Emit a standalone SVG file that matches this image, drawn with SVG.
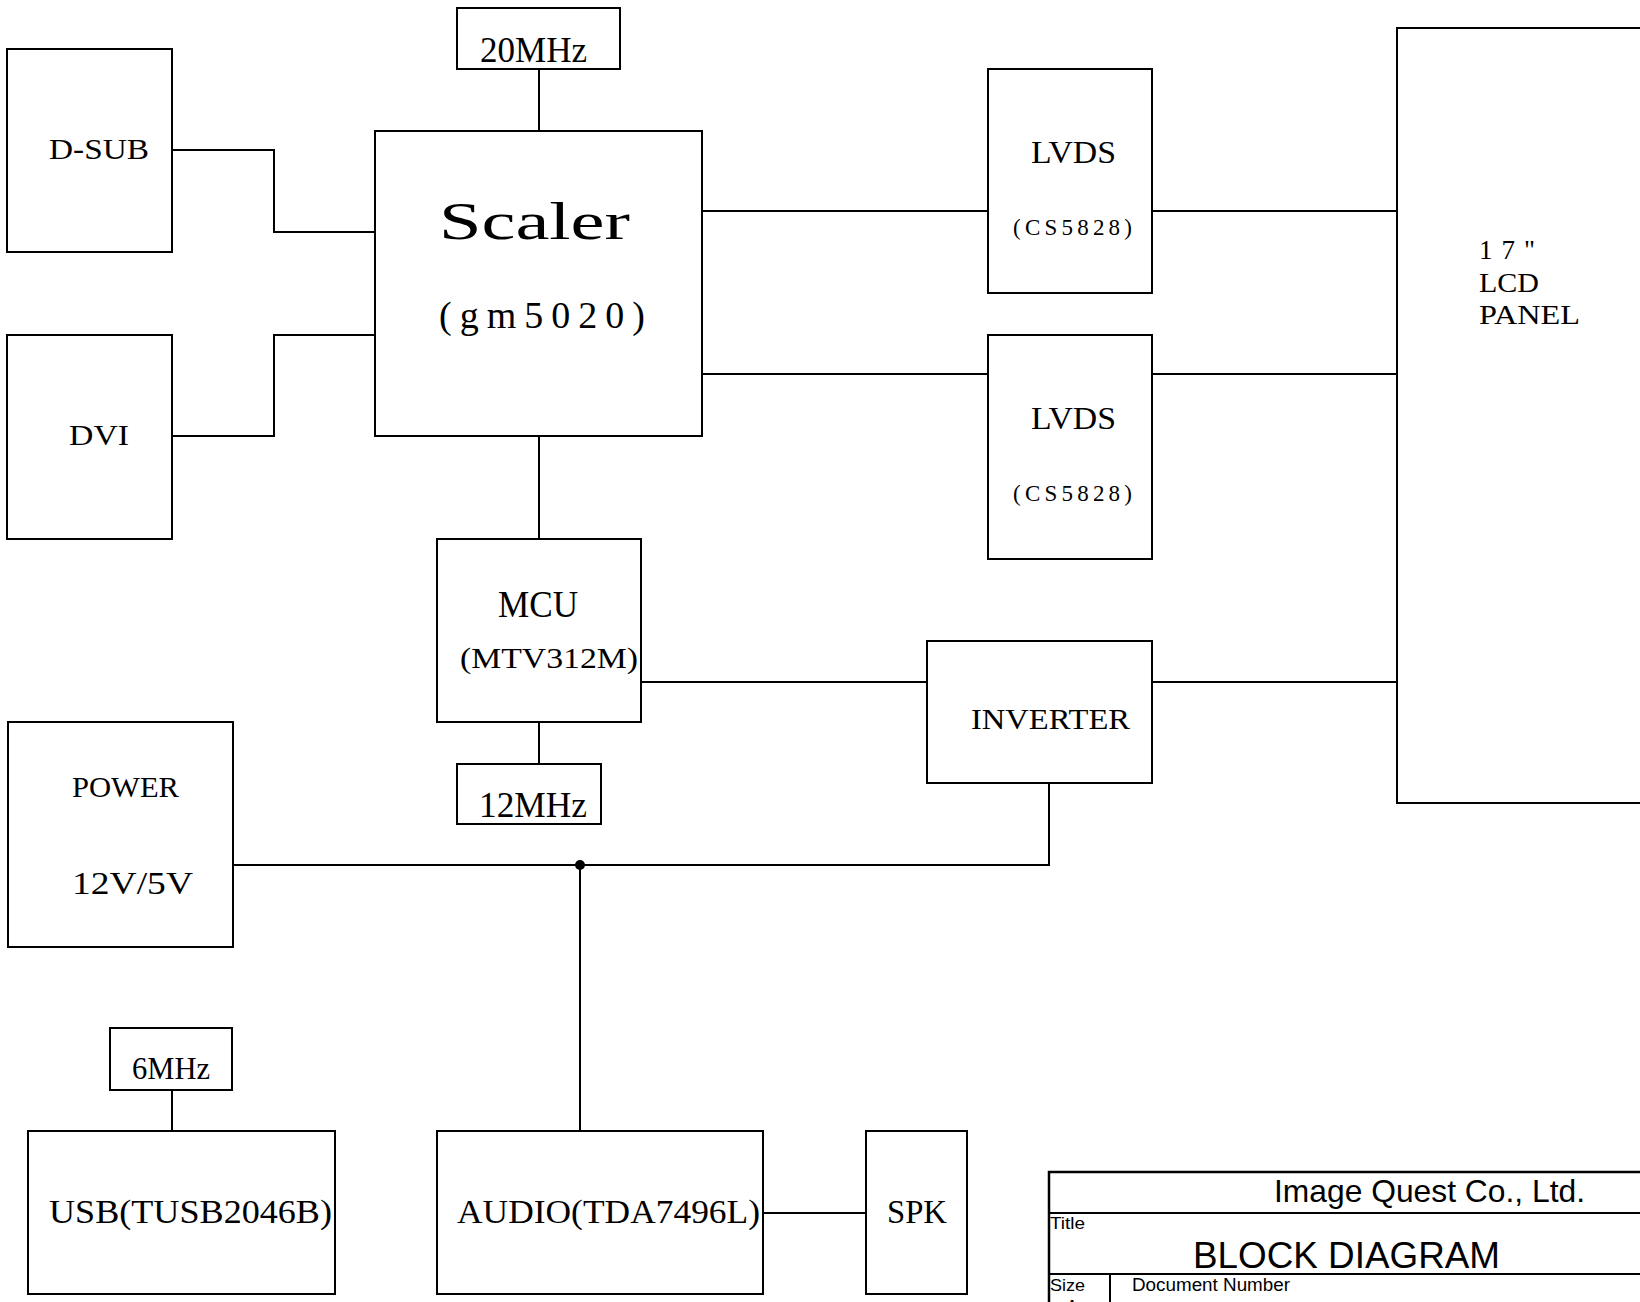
<svg xmlns="http://www.w3.org/2000/svg" width="1640" height="1302" viewBox="0 0 1640 1302">
<style>
.b{fill:#fff;stroke:#000;stroke-width:2}
.c{fill:none;stroke:#000;stroke-width:2}
.t{font-family:"Liberation Serif","Times New Roman",serif;fill:#000}
.s{font-family:"Liberation Sans",Arial,sans-serif;fill:#000}
</style>
<rect width="1640" height="1302" fill="#fff"/>
<g id="connectors">
<path class="c" d="M539,69V131"/>
<path class="c" d="M172,150H274V232H375"/>
<path class="c" d="M172,436H274V335H375"/>
<path class="c" d="M702,211H988"/>
<path class="c" d="M702,355V374H988"/>
<path class="c" d="M1152,211H1397"/>
<path class="c" d="M1152,374H1397"/>
<path class="c" d="M539,436V539"/>
<path class="c" d="M539,722V764"/>
<path class="c" d="M641,682H927"/>
<path class="c" d="M1152,682H1397"/>
<path class="c" d="M232,865H1049V783"/>
<path class="c" d="M580,865V1131"/>
<circle cx="580" cy="865" r="5" fill="#000"/>
<path class="c" d="M172,1090V1131"/>
<path class="c" d="M763,1213H866" stroke-width="2.6"/>
</g>
<g id="osc20">
<rect class="b" x="457" y="8" width="163" height="61"/>
<text class="t" x="480" y="62" font-size="35" textLength="107" lengthAdjust="spacingAndGlyphs">20MHz</text>
</g>
<g id="dsub">
<rect class="b" x="7" y="49" width="165" height="203"/>
<text class="t" x="49" y="159" font-size="29" textLength="100" lengthAdjust="spacingAndGlyphs">D-SUB</text>
</g>
<g id="dvi">
<rect class="b" x="7" y="335" width="165" height="204"/>
<text class="t" x="69" y="445" font-size="29" textLength="60" lengthAdjust="spacingAndGlyphs">DVI</text>
</g>
<g id="scaler">
<rect class="b" x="375" y="131" width="327" height="305"/>
<text class="t" x="439" y="239" font-size="52" textLength="191" lengthAdjust="spacingAndGlyphs">Scaler</text>
<text class="t" x="439" y="328" font-size="38" textLength="206" lengthAdjust="spacing">(gm5020)</text>
</g>
<g id="lvds1">
<rect class="b" x="988" y="69" width="164" height="224"/>
<text class="t" x="1031" y="163" font-size="32" textLength="85" lengthAdjust="spacingAndGlyphs">LVDS</text>
<text class="t" x="1013" y="235" font-size="23" textLength="119" lengthAdjust="spacing">(CS5828)</text>
</g>
<g id="lvds2">
<rect class="b" x="988" y="335" width="164" height="224"/>
<text class="t" x="1031" y="429" font-size="32" textLength="85" lengthAdjust="spacingAndGlyphs">LVDS</text>
<text class="t" x="1013" y="501" font-size="23" textLength="119" lengthAdjust="spacing">(CS5828)</text>
</g>
<g id="lcd">
<rect class="b" x="1397" y="28" width="270" height="775"/>
<text class="t" x="1479" y="259" font-size="27" textLength="56" lengthAdjust="spacing">17"</text>
<text class="t" x="1479" y="292" font-size="27" textLength="60" lengthAdjust="spacingAndGlyphs">LCD</text>
<text class="t" x="1479" y="324" font-size="27" textLength="101" lengthAdjust="spacingAndGlyphs">PANEL</text>
</g>
<g id="mcu">
<rect class="b" x="437" y="539" width="204" height="183"/>
<text class="t" x="498" y="617" font-size="37" textLength="80" lengthAdjust="spacingAndGlyphs">MCU</text>
<text class="t" x="460" y="668" font-size="29" textLength="178" lengthAdjust="spacingAndGlyphs">(MTV312M)</text>
</g>
<g id="osc12">
<rect class="b" x="457" y="764" width="144" height="60"/>
<text class="t" x="479" y="817" font-size="35" textLength="108" lengthAdjust="spacingAndGlyphs">12MHz</text>
</g>
<g id="inverter">
<rect class="b" x="927" y="641" width="225" height="142"/>
<text class="t" x="971" y="729" font-size="29" textLength="159" lengthAdjust="spacingAndGlyphs">INVERTER</text>
</g>
<g id="power">
<rect class="b" x="8" y="722" width="225" height="225"/>
<text class="t" x="72" y="797" font-size="30" textLength="107" lengthAdjust="spacingAndGlyphs">POWER</text>
<text class="t" x="72" y="894" font-size="31" textLength="121" lengthAdjust="spacingAndGlyphs">12V/5V</text>
</g>
<g id="osc6">
<rect class="b" x="110" y="1028" width="122" height="62"/>
<text class="t" x="132" y="1079" font-size="31" textLength="78" lengthAdjust="spacingAndGlyphs">6MHz</text>
</g>
<g id="usb">
<rect class="b" x="28" y="1131" width="307" height="163"/>
<text class="t" x="49" y="1223" font-size="33" textLength="283" lengthAdjust="spacingAndGlyphs">USB(TUSB2046B)</text>
</g>
<g id="audio">
<rect class="b" x="437" y="1131" width="326" height="163"/>
<text class="t" x="457" y="1223" font-size="33" textLength="303" lengthAdjust="spacingAndGlyphs">AUDIO(TDA7496L)</text>
</g>
<g id="spk">
<rect class="b" x="866" y="1131" width="101" height="163"/>
<text class="t" x="887" y="1223" font-size="33" textLength="60" lengthAdjust="spacingAndGlyphs">SPK</text>
</g>
<g id="titleblock">
<path fill="none" stroke="#000" stroke-width="2.5" d="M1660,1172H1049V1320"/>
<path class="c" d="M1049,1213H1660M1049,1274H1660M1110,1274V1320"/>
<text class="s" x="1274" y="1202" font-size="32" textLength="311" lengthAdjust="spacingAndGlyphs">Image Quest Co., Ltd.</text>
<text class="s" x="1050" y="1229" font-size="17" textLength="35" lengthAdjust="spacingAndGlyphs">Title</text>
<text class="s" x="1193" y="1268" font-size="36" textLength="307" lengthAdjust="spacingAndGlyphs">BLOCK DIAGRAM</text>
<text class="s" x="1050" y="1291" font-size="17" textLength="35" lengthAdjust="spacingAndGlyphs">Size</text>
<text class="s" x="1132" y="1291" font-size="18" textLength="158" lengthAdjust="spacingAndGlyphs">Document Number</text>
<text class="s" x="1072" y="1313" font-size="18" text-anchor="middle">A</text>
</g>
</svg>
